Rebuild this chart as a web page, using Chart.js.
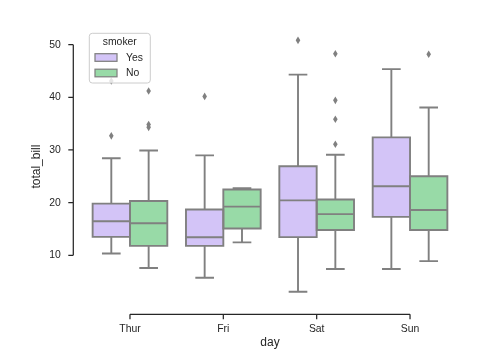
<!DOCTYPE html>
<html><head><meta charset="utf-8">
<script src="https://cdn.jsdelivr.net/npm/chart.js@4.4.1/dist/chart.umd.min.js"></script>
<style>html,body{margin:0;padding:0;background:#fff;}</style>
</head><body>
<canvas id="c" width="501" height="360" style="width:501px;height:360px;display:block"></canvas>
<script>
// ---- data ----
const days = ['Thur', 'Fri', 'Sat', 'Sun'];
const smokerGroups = ['Yes', 'No'];
const yTickValues = [10, 20, 30, 40, 50];

const yesLow    = [10.34, 5.75, 3.07, 7.4];
const yesQ1     = [13.51, 11.8, 13.45, 17.3];
const yesMedian = [16.47, 13.42, 20.43, 23.1];
const yesQ3     = [19.81, 18.7, 26.9, 32.4];
const yesHigh   = [28.44, 28.97, 44.3, 45.35];
const yesOutliers = [[32.68, 43.11], [40.17], [50.81], []];

const noLow    = [7.6, 12.46, 7.4, 8.9];
const noQ1     = [11.8, 15.1, 14.8, 14.8];
const noMedian = [16.1, 19.24, 17.82, 18.6];
const noQ3     = [20.3, 22.5, 20.6, 25.0];
const noHigh   = [29.9, 22.75, 29.1, 38.07];
const noOutliers = [[34.3, 34.83, 41.19], [], [31.1, 35.83, 39.42, 48.27], [48.17]];

// ---- styles ----
const FONT = '"Liberation Sans", Arial, sans-serif';
const TEXT = '#262626';
const LINE = '#808080';
const LW = 1.9;
const fills = ['#d3c4f7', '#98daa7'];

const stats = [
  {low: yesLow, q1: yesQ1, med: yesMedian, q3: yesQ3, high: yesHigh, out: yesOutliers},
  {low: noLow, q1: noQ1, med: noMedian, q3: noQ3, high: noHigh, out: noOutliers}
];

const boxExtras = {
  id: 'boxExtras',
  afterDatasetsDraw(chart) {
    const ctx = chart.ctx, ys = chart.scales.y;
    ctx.save();
    ctx.strokeStyle = LINE; ctx.fillStyle = LINE; ctx.lineWidth = LW;
    ctx.lineJoin = 'miter';
    stats.forEach((s, i) => {
      const meta = chart.getDatasetMeta(i);
      meta.data.forEach((bar, j) => {
        const x = bar.x, w = bar.width;
        const pq1 = ys.getPixelForValue(s.q1[j]), pq3 = ys.getPixelForValue(s.q3[j]);
        const plo = ys.getPixelForValue(s.low[j]), phi = ys.getPixelForValue(s.high[j]);
        const pm = ys.getPixelForValue(s.med[j]);
        ctx.beginPath();
        ctx.rect(x - w / 2, pq3, w, pq1 - pq3);
        ctx.moveTo(x, pq3); ctx.lineTo(x, phi);
        ctx.moveTo(x, pq1); ctx.lineTo(x, plo);
        ctx.moveTo(x - w / 4, phi); ctx.lineTo(x + w / 4, phi);
        ctx.moveTo(x - w / 4, plo); ctx.lineTo(x + w / 4, plo);
        ctx.moveTo(x - w / 2, pm); ctx.lineTo(x + w / 2, pm);
        ctx.stroke();
        s.out[j].forEach(v => {
          const py = ys.getPixelForValue(v);
          ctx.beginPath();
          ctx.moveTo(x, py - 3.8); ctx.lineTo(x + 2.3, py);
          ctx.lineTo(x, py + 3.8); ctx.lineTo(x - 2.3, py);
          ctx.closePath(); ctx.fill();
        });
      });
    });
    ctx.restore();
  },
  afterDraw(chart) {
    const ctx = chart.ctx, xs = chart.scales.x, ys = chart.scales.y, ca = chart.chartArea;
    ctx.save();
    ctx.strokeStyle = TEXT; ctx.lineWidth = 1.25;
    // y spine (offset, trimmed)
    const ax = ca.left - 10;
    const yTop = ys.getPixelForValue(yTickValues[yTickValues.length - 1]);
    const yBot = ys.getPixelForValue(yTickValues[0]);
    ctx.beginPath();
    ctx.moveTo(ax, yTop); ctx.lineTo(ax, yBot);
    yTickValues.forEach(v => { const p = ys.getPixelForValue(v); ctx.moveTo(ax - 5, p); ctx.lineTo(ax, p); });
    // x spine
    const ay = ca.bottom + 10;
    const x0 = xs.getPixelForValue(0), x1 = xs.getPixelForValue(days.length - 1);
    ctx.moveTo(x0, ay); ctx.lineTo(x1, ay);
    days.forEach((d, i) => { const p = xs.getPixelForValue(i); ctx.moveTo(p, ay); ctx.lineTo(p, ay + 5); });
    ctx.stroke();

    // legend
    const lx = 89.3, ly = 33.3, lw = 61, lh = 49.7;
    ctx.beginPath();
    ctx.roundRect(lx, ly, lw, lh, 3);
    ctx.fillStyle = 'rgba(255,255,255,0.8)'; ctx.fill();
    ctx.strokeStyle = '#cccccc'; ctx.lineWidth = 1; ctx.stroke();
    ctx.fillStyle = TEXT;
    ctx.font = '10.4px ' + FONT;
    ctx.textAlign = 'center'; ctx.textBaseline = 'middle';
    ctx.fillText('smoker', lx + lw / 2, 42.5);
    ctx.textAlign = 'left';
    smokerGroups.forEach((g, i) => {
      const cy = 57.5 + i * 15.5;
      ctx.fillStyle = fills[i];
      ctx.fillRect(95, cy - 3.8, 22, 7.6);
      ctx.strokeStyle = LINE; ctx.lineWidth = 1.25;
      ctx.strokeRect(95, cy - 3.8, 22, 7.6);
      ctx.fillStyle = TEXT;
      ctx.fillText(g, 126, cy + 0.5);
    });
    ctx.restore();
  }
};

const datasets = stats.map((s, i) => ({
  label: smokerGroups[i],
  data: days.map((d, j) => [s.q1[j], s.q3[j]]),
  backgroundColor: fills[i],
  borderWidth: 0,
  categoryPercentage: 0.8,
  barPercentage: 1.0
}));

new Chart(document.getElementById('c'), {
  type: 'bar',
  data: {labels: days, datasets},
  options: {
    responsive: false,
    animation: false,
    layout: {padding: {left: 0, right: 44.3, top: 27, bottom: 0}},
    plugins: {legend: {display: false}, tooltip: {enabled: false}},
    scales: {
      x: {
        type: 'category', offset: true,
        grid: {display: false, drawTicks: false}, border: {display: false},
        ticks: {color: TEXT, font: {family: FONT, size: 10.4}, padding: 19},
        title: {display: true, text: 'day', color: TEXT, font: {family: FONT, size: 12}, padding: {top: 0, bottom: 9.8}},
        afterFit: s => { s.height = 55.7; }
      },
      y: {
        type: 'linear', min: 0.7, max: 53,
        grid: {display: false, drawTicks: false}, border: {display: false},
        afterBuildTicks: s => { s.ticks = yTickValues.map(v => ({value: v})); },
        ticks: {color: TEXT, font: {family: FONT, size: 10.4}, padding: 22.6},
        title: {display: true, text: 'total_bill', color: TEXT, font: {family: FONT, size: 12}, padding: {top: 29.8, bottom: 0}},
        afterFit: s => { s.width = 83.3; }
      }
    }
  },
  plugins: [boxExtras]
});
</script>
</body></html>
